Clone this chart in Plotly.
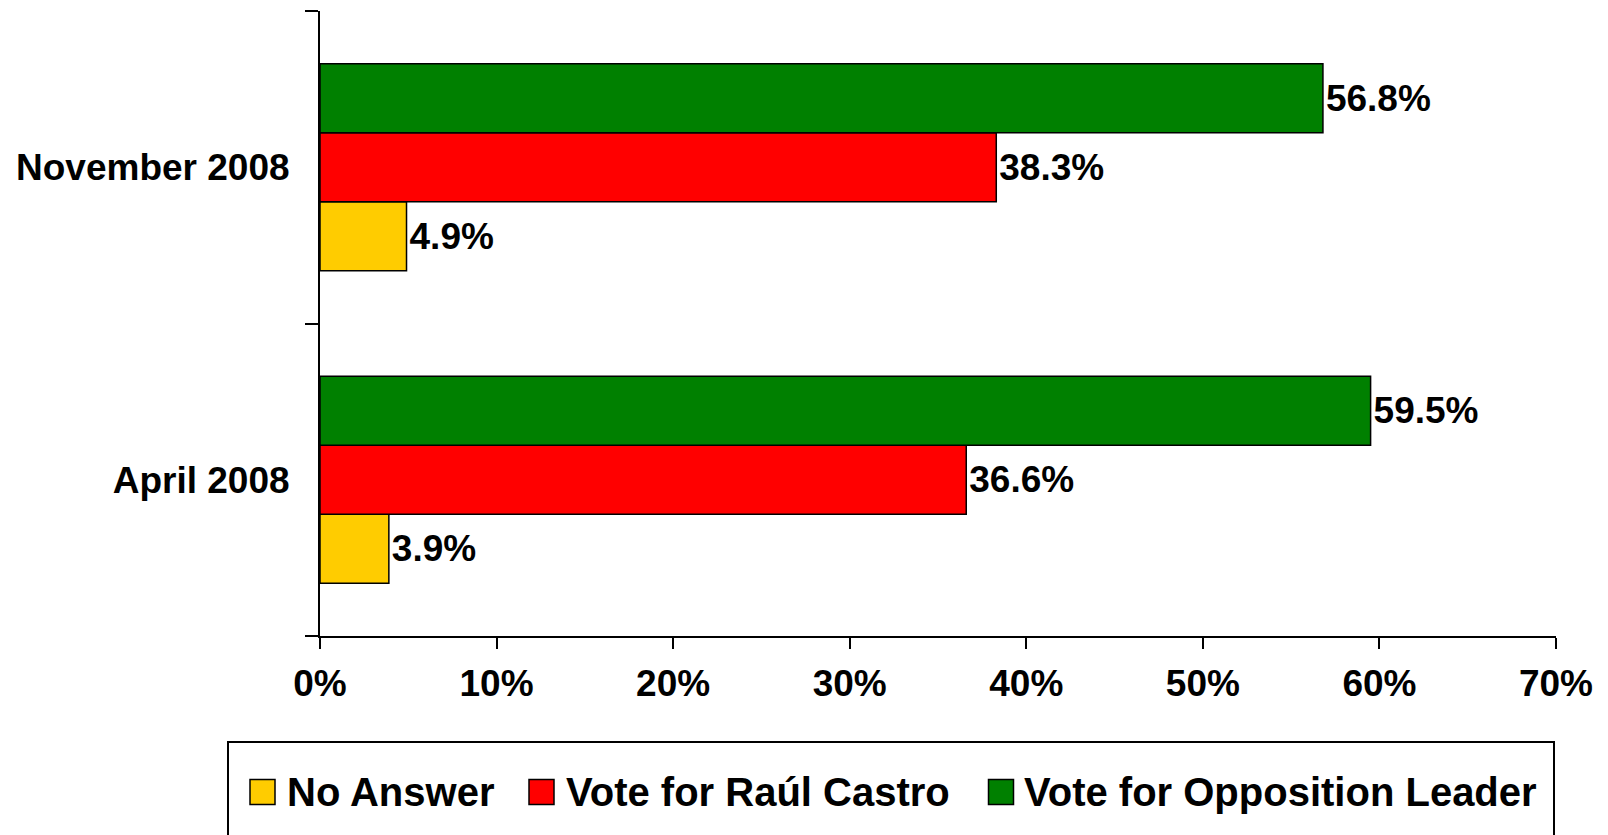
import plotly.graph_objects as go

# ---- data ----
categories = ["April 2008", "November 2008"]
series_names = ["No Answer", "Vote for Raúl Castro", "Vote for Opposition Leader"]
no_answer = [3.9, 4.9]
raul_castro = [36.6, 38.3]
opposition = [59.5, 56.8]
x_tick_values = [0, 10, 20, 30, 40, 50, 60, 70]
x_tick_labels = ["0%", "10%", "20%", "30%", "40%", "50%", "60%", "70%"]
series_colors = ["#FFCC00", "#FF0000", "#008000"]

# ---- layout constants (page body has an 8px margin) ----
OFF = 8
W, H = 1608 - 2 * OFF, 835 - OFF
L, T = 312, 3
PW, PH = 1236, 625
R = W - L - PW
B = H - T - PH
FONT = "Liberation Sans, Arial, Helvetica, sans-serif"


def px_x(p):
    """screen x pixel -> paper coordinate"""
    return (p - OFF - L) / PW


def px_y(p):
    """screen y pixel -> paper coordinate"""
    return (T + PH - (p - OFF)) / PH


fig = go.Figure()
for name, vals, col in zip(series_names, [no_answer, raul_castro, opposition], series_colors):
    fig.add_trace(go.Bar(
        name=name,
        orientation="h",
        y=categories,
        x=vals,
        marker=dict(color=col, line=dict(color="black", width=1.5)),
        text=[f"{v:.1f}%" for v in vals],
        textposition="outside",
        textfont=dict(family=FONT, size=37, color="black", weight="bold"),
        constraintext="none",
        cliponaxis=False,
        showlegend=False,
    ))

# manual legend (large symbols as in the reference)
shapes = [dict(type="rect", xref="paper", yref="paper",
               x0=px_x(228), x1=px_x(1554), y0=px_y(742), y1=px_y(870),
               line=dict(color="black", width=2), fillcolor="rgba(0,0,0,0)")]
annotations = []
sym_centers = [262.5, 541.5, 1001]
text_lefts = [285, 564, 1022]
legend_cy = 792
for name, col, cx, tx in zip(series_names, series_colors, sym_centers, text_lefts):
    shapes.append(dict(type="rect", xref="paper", yref="paper",
                       x0=px_x(cx - 12.5), x1=px_x(cx + 12.5),
                       y0=px_y(legend_cy + 12.5), y1=px_y(legend_cy - 12.5),
                       line=dict(color="black", width=1.5), fillcolor=col))
    annotations.append(dict(xref="paper", yref="paper", x=px_x(tx), y=px_y(legend_cy),
                            xanchor="left", yanchor="middle", showarrow=False,
                            text=name,
                            font=dict(family=FONT, size=40, color="black", weight="bold")))

fig.update_layout(
    width=W, height=H,
    margin=dict(l=L, r=R, t=T, b=B, autoexpand=False),
    paper_bgcolor="white", plot_bgcolor="white",
    barmode="group", bargap=0.338, bargroupgap=0,
    shapes=shapes, annotations=annotations,
    showlegend=False,
    xaxis=dict(
        range=[0, 70], tickvals=x_tick_values, ticktext=x_tick_labels,
        ticks="outside", ticklen=11, tickwidth=2, tickcolor="black",
        showline=True, linecolor="black", linewidth=2,
        showgrid=False, zeroline=False,
        tickfont=dict(family=FONT, size=37, color="black", weight="bold"),
        ticklabelstandoff=3,
    ),
    yaxis=dict(
        type="category", categoryorder="array", categoryarray=categories,
        range=[-0.5, 1.5], tickson="boundaries",
        ticks="outside", ticklen=13, tickwidth=2, tickcolor="black",
        showline=True, linecolor="black", linewidth=2,
        showgrid=False, zeroline=False,
        tickfont=dict(family=FONT, size=37, color="black", weight="bold"),
        ticklabelstandoff=21,
    ),
)

fig.write_html("out.html")
